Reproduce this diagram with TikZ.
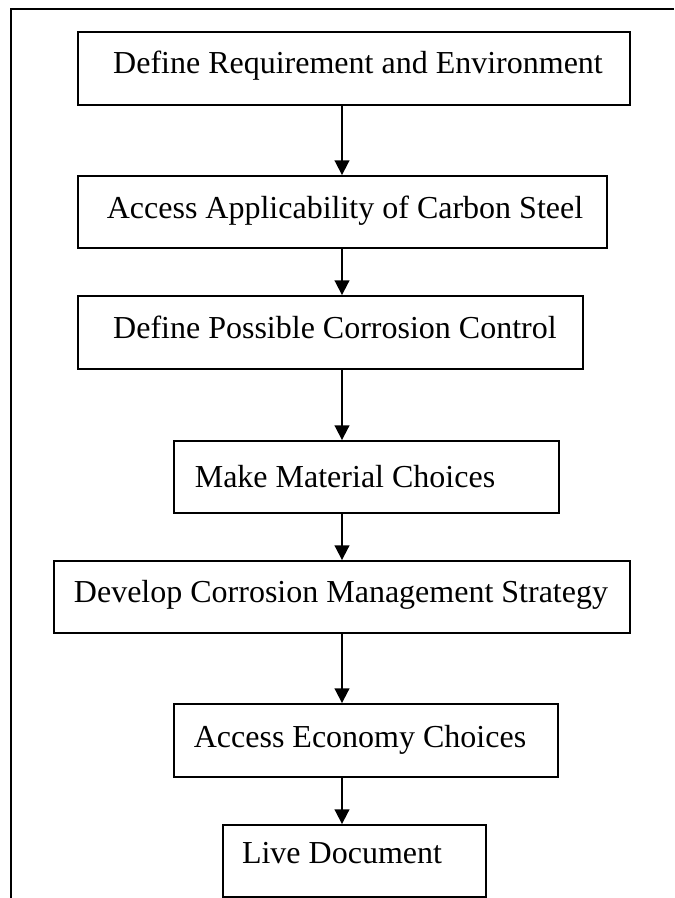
\documentclass[tikz,border=0pt]{standalone}
\usepackage{fontspec}
\setmainfont{Liberation Serif}
\usetikzlibrary{arrows.meta}
\begin{document}
\begin{tikzpicture}[x=0.75pt,y=-0.75pt,
  stepbox/.style={draw,line width=1.4pt,inner sep=0pt,rectangle},
  txt/.style={anchor=base,inner sep=0pt,font=\fontsize{24pt}{28pt}\selectfont},
  arr/.style={line width=1.4pt,-{Triangle[length=11pt,width=11pt]}},
  frame/.style={line width=1.4pt}]
\useasboundingbox (0,0) rectangle (674,898);
% outer frame
\coordinate (fr) at (674,9);
\coordinate (fc) at (11,9);
\coordinate (fb) at (11,898);
\draw[frame] (fr) -- (fc) -- (fb);
% boxes
\node[stepbox,minimum width=414pt,minimum height=54.75pt] (b1) at (354,68.5) {};
\node[stepbox,minimum width=396.75pt,minimum height=54pt] (b2) at (342.5,212) {};
\node[stepbox,minimum width=378.75pt,minimum height=54.75pt] (b3) at (330.5,332.5) {};
\node[stepbox,minimum width=288.75pt,minimum height=54pt] (b4) at (366.5,477) {};
\node[stepbox,minimum width=432pt,minimum height=54pt] (b5) at (342,597) {};
\node[stepbox,minimum width=288pt,minimum height=54.75pt] (b6) at (366,740.5) {};
\node[stepbox,minimum width=197.25pt,minimum height=54pt] (b7) at (354.5,861) {};
% texts
\node[txt] (t1) at (358,74) {Define Requirement and Environment};
\node[txt] (t2) at (345,219) {Access Applicability of Carbon Steel};
\node[txt] (t3) at (335,338) {Define Possible Corrosion Control};
\node[txt] (t4) at (345,487) {Make Material Choices};
\node[txt] (t5) at (341,602) {Develop Corrosion Management Strategy};
\node[txt] (t6) at (360,747) {Access Economy Choices};
\node[txt] (t7) at (342,863) {Live Document};
% arrows
\coordinate (ax) at (342,0);
\draw[arr] (b1.south -| ax) -- (b2.north -| ax);
\draw[arr] (b2.south -| ax) -- (b3.north -| ax);
\draw[arr] (b3.south -| ax) -- (b4.north -| ax);
\draw[arr] (b4.south -| ax) -- (b5.north -| ax);
\draw[arr] (b5.south -| ax) -- (b6.north -| ax);
\draw[arr] (b6.south -| ax) -- (b7.north -| ax);
\end{tikzpicture}
\end{document}
